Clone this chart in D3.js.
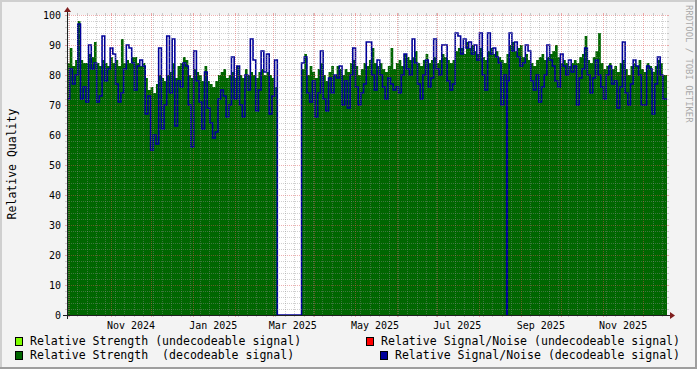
<!DOCTYPE html>
<html><head><meta charset="utf-8">
<script src="https://cdn.jsdelivr.net/npm/d3@7"></script>
<style>
body{margin:0;background:#f3f3f3}
svg{display:block}
text{font-family:"DejaVu Sans Mono",monospace;white-space:pre}
</style>
</head><body>
<svg id="c" width="697" height="369"></svg>
<script>
// ---------------- data ----------------
const seriesStart = "2024-09-29T12:00:00Z";
const stepDays = 2;
const domainStart = "2024-09-29T12:00:00Z";
const domainEnd = "2025-12-18T14:00:00Z";

// Relative Strength (decodeable signal), one value per 2-day step
const strength = [
 84,89,83,85,98,85,84,84,87,86, 91,84,83,85,84,83,86,84,85,83,
 92,84,85,84,86,86,84,83,84,79, 75,76,74,77,80,79,78,80,81,84,
 79,83,84,86,85,80,79,82,81,80, 78,83,78,77,76,78,80,81,82,79,
 80,81,79,83,80,79,82,80,81,80, 79,81,82,80,81,80,79,76,
 0,0,0,0,0,0,0,0,0,
 82,87,80,83,81,79,82,84,80,78,81,83,80,83,
 82,80,82,81,84,85,83,80,82,84,
 83,85,89,84,83,84,82,81,83,89,
 82,84,85,83,87,86,85,86,88,84,
 83,85,87,84,85,86,84,85,87,86,
 85,84,85,88,89,89,87,91,89,90,
 88,87,89,86,85,88,89,87,88,86,
 85,84,87,90,91,88,89,90,86,87,
 85,84,83,85,86,87,85,86,87,88,
 90,86,84,85,84,83,84,85,84,86,
 87,93,85,84,86,88,94,84,82,83,
 84,82,83,81,84,85,82,80,83,84,
 83,85,82,81,84,83,81,83,85,84,80
];
// Relative Signal/Noise (decodeable signal)
const snr = [
 72,82,77,80,97,72,76,71,90,82, 84,71,73,93,78,82,89,87,77,71,
 74,82,90,89,84,75,83,85,83,67, 73,55,60,57,89,62,70,93,74,92,
 63,78,76,84,83,70,56,88,78,71, 62,81,69,64,59,61,72,75,73,66,
 70,86,72,83,70,66,80,75,92,85, 68,75,88,81,87,67,73,85,
 0,0,0,0,0,0,0,0,0,
 84,86,74,71,78,66,74,88,72,68,79,74,80,79,
 83,70,78,69,80,89,76,70,74,77,
 91,91,80,75,85,80,76,72,79,77,
 75,76,74,80,87,82,80,92,84,77,
 72,80,85,76,79,92,82,80,90,90,
 78,75,77,94,93,87,92,89,91,87,
 90,85,94,80,75,94,87,89,86,84,
 70,80,78,94,88,91,86,83,84,90,
 88,78,75,80,71,76,80,90,85,83,
 78,76,87,83,80,85,81,83,70,79,
 82,89,80,74,79,85,80,76,72,80,
 83,77,78,69,76,91,74,70,77,85,
 83,80,70,70,83,82,67,77,86,80,72
];
// brief drop-outs of the S/N reading to 0
const snrDropouts = ["2025-08-21T16:00:00Z"];
const dropoutHours = 10;

const yTicks = [0,10,20,30,40,50,60,70,80,90,100];
const labelMonths = ["2024-11-01","2025-01-01","2025-03-01","2025-05-01","2025-07-01","2025-09-01","2025-11-01"];

const legendNames = [
  "Relative Strength (undecodeable signal)",
  "Relative Signal/Noise (undecodeable signal)",
  "Relative Strength  (decodeable signal)",
  "Relative Signal/Noise (decodeable signal)"
];
const legendColors = ["#7fff00","#ff0000","#006600","#000099"];

const yTitle = "Relative Quality";
const watermark = "RRDTOOL / TOBI OETIKER";

// ---------------- layout ----------------
const W = 697, H = 369;
const X0 = 67, X1 = 667, Y0 = 315, Y1 = 15;

const svg = d3.select("#c");
const x = d3.scaleUtc().domain([new Date(domainStart), new Date(domainEnd)]).range([X0, X1]);
const y = d3.scaleLinear().domain([0,100]).range([Y0, Y1]);

// frame
svg.append("rect").attr("width",W).attr("height",H).attr("fill","#f3f3f3");
svg.append("rect").attr("x",0).attr("y",0).attr("width",W).attr("height",2).attr("fill","#cfcfcf");
svg.append("rect").attr("x",0).attr("y",0).attr("width",2).attr("height",H).attr("fill","#cfcfcf");
svg.append("rect").attr("x",0).attr("y",H-2).attr("width",W).attr("height",2).attr("fill","#9e9e9e");
svg.append("rect").attr("x",W-2).attr("y",0).attr("width",2).attr("height",H).attr("fill","#9e9e9e");

// canvas
svg.append("rect").attr("x",X0).attr("y",Y1).attr("width",X1-X0).attr("height",Y0-Y1).attr("fill","#ffffff");

svg.append("clipPath").attr("id","plotclip").append("rect")
  .attr("x",X0).attr("y",Y1-2).attr("width",X1-X0).attr("height",Y0-Y1+2);

// data points
const t0 = new Date(seriesStart);
const pts = strength.map((v,i)=>({t:d3.utcDay.offset(t0,i*stepDays), g:v, b:snr[i]}));
const tEnd = new Date(domainEnd);
pts.push({t:tEnd, g:strength[strength.length-1], b:snr[snr.length-1]});

// blue line points including drop-outs
let bpts = pts.map(d=>({t:d.t, b:d.b}));
snrDropouts.forEach(ds=>{
  const d = new Date(ds);
  const bi = d3.bisector(p=>p.t).right(bpts,d)-1;
  const prev = bpts[bi].b;
  bpts.push({t:d,b:0});
  bpts.push({t:d3.utcHour.offset(d,dropoutHours),b:prev});
});
bpts.sort((a,b)=>a.t-b.t);

const gPlot = svg.append("g").attr("clip-path","url(#plotclip)");
gPlot.append("path")
  .attr("d", d3.area().x(d=>x(d.t)).y0(y(0)).y1(d=>y(d.g)).curve(d3.curveStepAfter)(pts))
  .attr("fill","#006600");
gPlot.append("path")
  .attr("d", d3.line().x(d=>x(d.t)).y(d=>y(d.b)).curve(d3.curveStepAfter)(bpts))
  .attr("fill","none").attr("stroke","#000099").attr("stroke-width",1.6).attr("stroke-linejoin","miter");

// grid
const minorCol = "rgba(143,143,143,0.42)";
const majorCol = "rgba(222,79,79,0.45)";
const grid = svg.append("g").attr("shape-rendering","crispEdges");

const hVals = d3.range(0,101,2);
hVals.forEach(v=>{
  const major = v%10===0;
  const yy = Math.round(y(v))+0.5;
  const col = major?majorCol:minorCol;
  if (v!==0) grid.append("line").attr("x1",X0).attr("x2",X1).attr("y1",yy).attr("y2",yy)
      .attr("stroke",col).attr("stroke-dasharray","1,1");
  grid.append("line").attr("x1",X0-2).attr("x2",X0).attr("y1",yy).attr("y2",yy).attr("stroke",col);
  grid.append("line").attr("x1",X1).attr("x2",X1+2).attr("y1",yy).attr("y2",yy).attr("stroke",col);
});

const majorDates = d3.utcMonth.range(x.domain()[0], x.domain()[1]);
const majorSet = new Set(majorDates.map(d=>+d));
const minorDates = d3.utcMonday.range(x.domain()[0], x.domain()[1]).filter(d=>!majorSet.has(+d));
function vline(d, col){
  const xx = Math.round(x(d))+0.5;
  grid.append("line").attr("x1",xx).attr("x2",xx).attr("y1",Y1).attr("y2",Y0)
    .attr("stroke",col).attr("stroke-dasharray","1,1");
  grid.append("line").attr("x1",xx).attr("x2",xx).attr("y1",Y0).attr("y2",Y0+2).attr("stroke",col);
  grid.append("line").attr("x1",xx).attr("x2",xx).attr("y1",Y1-2).attr("y2",Y1).attr("stroke",col);
}
minorDates.forEach(d=>vline(d,minorCol));
majorDates.forEach(d=>vline(d,majorCol));

// axes
const ax = svg.append("g").attr("shape-rendering","crispEdges");
ax.append("line").attr("x1",X0-4).attr("x2",X1+4).attr("y1",Y0+0.5).attr("y2",Y0+0.5).attr("stroke","#1f1f1f");
ax.append("line").attr("x1",X0+0.5).attr("x2",X0+0.5).attr("y1",Y0+4).attr("y2",Y1-4).attr("stroke","#1f1f1f");
svg.append("path").attr("d",`M${X0-3},${Y1-3}L${X0+4},${Y1-3}L${X0+0.5},${Y1-8}Z`).attr("fill","#801f1f");
svg.append("path").attr("d",`M${X1+3},${Y0-3}L${X1+3},${Y0+4}L${X1+8},${Y0+0.5}Z`).attr("fill","#801f1f");

// y tick labels
svg.append("g").selectAll("text").data(yTicks).join("text")
  .attr("x",61).attr("y",d=>y(d)+3.8).attr("text-anchor","end")
  .attr("font-size","10px").attr("fill","#000").text(d=>d);

// x labels (centered in month)
const fmt = d3.utcFormat("%b %Y");
svg.append("g").selectAll("text").data(labelMonths.map(s=>new Date(s+"T00:00:00Z"))).join("text")
  .attr("x",d=>x(d3.utcDay.offset(d,15))).attr("y",328.5).attr("text-anchor","middle")
  .attr("font-size","10px").attr("fill","#000").text(d=>fmt(d));

// y title
svg.append("text").attr("transform","translate(15.5,164) rotate(-90)").attr("text-anchor","middle")
  .attr("font-size","11.5px").attr("fill","#000").text(yTitle);

// watermark
svg.append("text").attr("transform","translate(685.5,5) rotate(90)").attr("text-anchor","start")
  .attr("font-size","8.9px").attr("fill","#a8a8a8").text(watermark);

// legend
const legY = [345, 358.5];
legendNames.forEach((name,i)=>{
  const row = Math.floor(i/2), right = i%2===1;
  const t = svg.append("text").attr("y",legY[row]).attr("font-size","11.55px").attr("fill","#000").text(name);
  let tx;
  if (right){ t.attr("x",680).attr("text-anchor","end"); tx = 680 - t.node().getComputedTextLength(); }
  else { tx = 30; t.attr("x",tx); }
  svg.append("rect").attr("x",tx-14.5).attr("y",legY[row]-7.5).attr("width",7).attr("height",8)
    .attr("fill",legendColors[i]).attr("stroke","#000").attr("stroke-width",1).attr("shape-rendering","crispEdges");
});
</script>
</body></html>
